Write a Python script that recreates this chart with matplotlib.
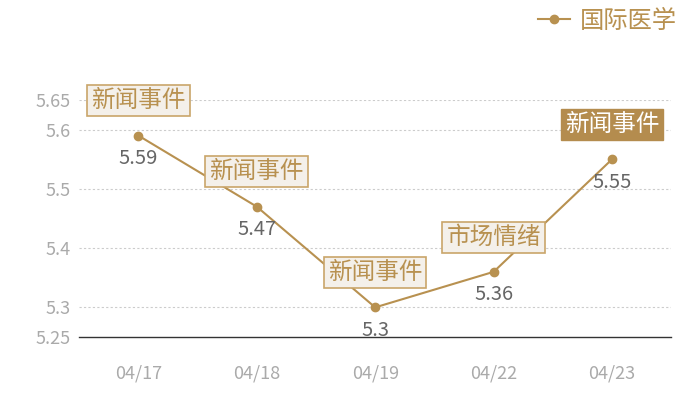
import matplotlib
matplotlib.use("Agg")
import matplotlib.pyplot as plt
from matplotlib.lines import Line2D

plt.rcParams['font.family'] = ['Noto Sans CJK SC', 'DejaVu Sans']

dates = ["04/17", "04/18", "04/19", "04/22", "04/23"]
values = [5.59, 5.47, 5.3, 5.36, 5.55]
tags = ["新闻事件", "新闻事件", "新闻事件", "市场情绪", "新闻事件"]
highlight = [False, False, False, False, True]
series_name = "国际医学"
yticks = [5.25, 5.3, 5.4, 5.5, 5.6, 5.65]

gold = "#b89150"

fig = plt.figure(figsize=(7, 4), dpi=100)
ax = fig.add_axes([0.113, 0.1575, 0.846, 0.5925])

x = list(range(len(dates)))
ax.plot(x, values, color=gold, lw=1.5, marker="o", ms=6, zorder=3)

for i, (v, t, hl) in enumerate(zip(values, tags, highlight)):
    ax.annotate(f"{v:g}", (i, v), xytext=(0, -16.5), textcoords="offset points",
                ha="center", va="center", fontsize=14.5, color="#666666", zorder=4)
    if hl:
        box = dict(boxstyle="square,pad=0.17", fc="#b48c4e", ec="#b48c4e", lw=1)
        tc = "white"
    else:
        box = dict(boxstyle="square,pad=0.17", fc="#f4f0ea", ec="#c9a56a", lw=1.2)
        tc = gold
    ax.annotate(t, (i, v), xytext=(0, 25), textcoords="offset points",
                ha="center", va="center", fontsize=17, color=tc, bbox=box, zorder=5)

ax.set_xlim(-0.5, len(dates) - 0.5)
ax.set_ylim(5.25, 5.65)
ax.set_xticks(x)
ax.set_xticklabels(dates)
ax.set_yticks(yticks)
ax.set_yticklabels([f"{t:g}" for t in yticks])
ax.tick_params(axis="both", length=0, colors="#aaaaaa", labelsize=13)
ax.tick_params(axis="x", pad=20)
ax.tick_params(axis="y", pad=6)

for t in yticks[1:]:
    ax.axhline(t, color="#cccccc", lw=0.8, ls=(0, (2, 2)), zorder=1)

for s in ["top", "right", "left"]:
    ax.spines[s].set_visible(False)
ax.spines["bottom"].set_color("#333333")
ax.spines["bottom"].set_linewidth(1)

handle = Line2D([], [], color=gold, lw=1.5, marker="o", ms=6)
leg = fig.legend([handle], [series_name], loc="upper right", bbox_to_anchor=(0.998, 1.035),
                 frameon=False, fontsize=17.5, handlelength=1.3, handletextpad=0.4)
for txt in leg.get_texts():
    txt.set_color(gold)

fig.savefig("out.png", dpi=100)
